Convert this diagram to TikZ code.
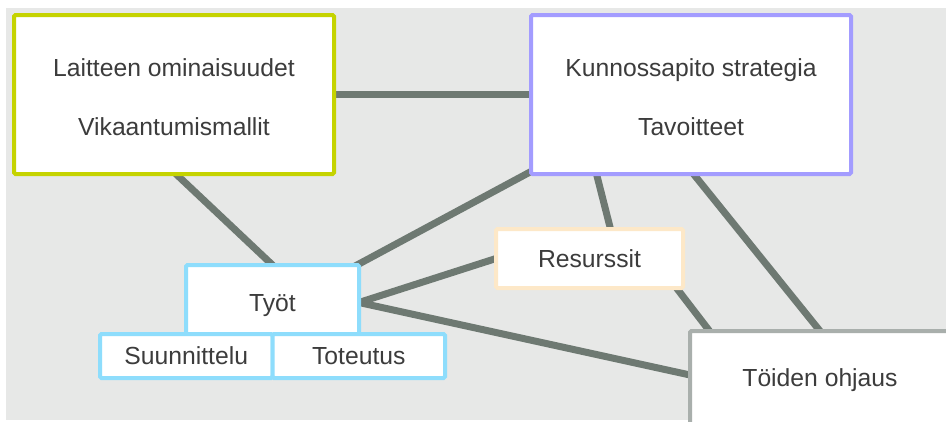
\documentclass[tikz,border=0pt]{standalone}
\usepackage{fontspec}
\setmainfont{Liberation Sans}
\usetikzlibrary{calc}
\definecolor{bggray}{HTML}{E7E8E7}
\definecolor{linkgray}{HTML}{6E7972}
\definecolor{txtgray}{HTML}{3C3C3C}
\definecolor{limeb}{HTML}{C5D300}
\definecolor{violetb}{HTML}{A39CFF}
\definecolor{skyb}{HTML}{8EDDFC}
\definecolor{peachb}{HTML}{FDE8C8}
\definecolor{greyb}{HTML}{A9AFAC}
\pgfdeclarelayer{bg}
\pgfdeclarelayer{links}
\pgfsetlayers{bg,links,main}
\newcommand{\topstrut}{\rule{0pt}{23pt}}
\tikzset{
  box/.style={draw, fill=white, line width=4pt, outer sep=0pt, inner sep=0pt,
    rounded corners=1.5pt, text=txtgray,
    font=\fontsize{24.7}{59}\selectfont},
  onebox/.style={box, text height=17.7pt, text depth=0pt},
  twobox/.style={box, align=center},
  link/.style={draw=linkgray, line width=7pt, shorten <=-8pt, shorten >=-8pt}
}
\begin{document}
\begin{tikzpicture}[x=1pt, y=-1pt]
\useasboundingbox (0,0) rectangle (946,421);
\begin{pgfonlayer}{bg}
  \fill[white] (0,0) rectangle (946,421);
  \fill[bggray] (6,8) rectangle (946,420);
\end{pgfonlayer}

% main boxes
\node[twobox, draw=limeb, minimum width=320pt, minimum height=159pt] (lait) at (174,94.5)
  {\topstrut Laitteen ominaisuudet\\Vikaantumismallit};
\node[twobox, draw=violetb, minimum width=320pt, minimum height=159pt] (kunn) at (691,94.5)
  {\topstrut Kunnossapito strategia\\Tavoitteet};
\node[onebox, draw=skyb, minimum width=173pt, minimum height=75pt] (tyot) at (272.5,302.5) {Työt};
\node[onebox, draw=skyb, minimum width=172.5pt, minimum height=44pt] (suun) at (186.25,356) {Suunnittelu};
\node[onebox, draw=skyb, minimum width=172.5pt, minimum height=44pt] (tote) at (358.75,356) {Toteutus};
\node[onebox, draw=peachb, minimum width=187pt, minimum height=59pt] (res) at (589.5,258.5) {Resurssit};
\node[onebox, draw=greyb, minimum width=260pt, minimum height=94pt] (toid) at (820,378) {Töiden ohjaus};

% connectors, drawn beneath the boxes
\begin{pgfonlayer}{links}
  \draw[link] (lait.east) -- (kunn.west);
  \draw[link] ([xshift=2pt]lait.south) -- (tyot.north);
  \draw[link] ([xshift=-2pt]tyot.north east) -- ([yshift=2.5pt]kunn.south west);
  \draw[link] ([xshift=-94.5pt]kunn.south) -- ([xshift=21pt]res.north);
  \draw[link] ([xshift=2.5pt]kunn.south) -- (toid.north);
  \draw[link] (tyot.east) -- (res.west);
  \draw[link] (tyot.east) -- ([yshift=3pt]toid.west);
  \draw[link] ([xshift=-6.5pt]res.south east) -- ([xshift=19.5pt]toid.north west);
\end{pgfonlayer}
\end{tikzpicture}
\end{document}
